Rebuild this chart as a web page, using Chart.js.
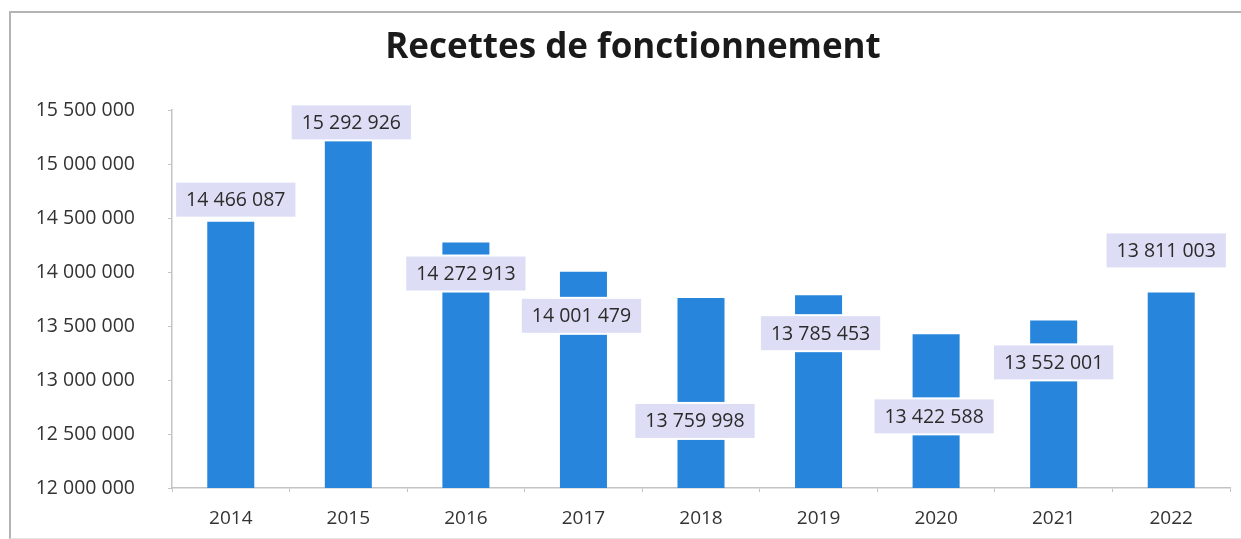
<!DOCTYPE html>
<html>
<head>
<meta charset="utf-8">
<script src="https://cdn.jsdelivr.net/npm/chart.js@4"></script>
<style>
  html, body { margin: 0; padding: 0; background: #fff; }
  #frame { position: absolute; left: 9px; top: 11px; width: 1240px; height: 525px;
           border-top: 2px solid #b4b4b4; border-left: 2px solid #b4b4b4; border-bottom: 1px solid #e4e4e4; }
  #myChart { position: absolute; left: 0; top: 0; }
</style>
</head>
<body>
<div id="frame"></div>
<canvas id="myChart" width="1241" height="539"></canvas>
<script>
// data
const years = ['2014', '2015', '2016', '2017', '2018', '2019', '2020', '2021', '2022'];
const recettes = [14466087, 15292926, 14272913, 14001479, 13759998, 13785453, 13422588, 13552001, 13811003];
const yTicks = [12000000, 12500000, 13000000, 13500000, 14000000, 14500000, 15000000, 15500000];

function fmt(v) {
  return String(v).replace(/\B(?=(\d{3})+(?!\d))/g, ' ');
}

// label boxes, shifted like in the source picture (px from the bar top)
const labelBoxes = {
  id: 'labelBoxes',
  afterDatasetsDraw(chart, args, opts) {
    const c = chart.ctx;
    const meta = chart.getDatasetMeta(0);
    c.save();
    c.font = opts.font;
    c.textAlign = 'center';
    c.textBaseline = 'middle';
    meta.data.forEach(function(bar, i) {
      const txt = fmt(recettes[i]);
      const w = c.measureText(txt).width + 20;
      const h = 34;
      const x = bar.x + opts.dx[i];
      const y = bar.y + opts.dy[i];
      c.fillStyle = '#ffffff';
      c.fillRect(x - w / 2 - 2, y - h / 2 - 2, w + 4, h + 4);
      c.fillStyle = '#dddef5';
      c.fillRect(x - w / 2, y - h / 2, w, h);
      c.fillStyle = '#2b2b2b';
      c.fillText(txt, x, y + 1);
    });
    c.restore();
  }
};

const ctx = document.getElementById('myChart');

new Chart(ctx, {
  type: 'bar',
  data: {
    labels: years,
    datasets: [{
      label: 'Recettes de fonctionnement',
      data: recettes,
      backgroundColor: '#2786dc',
      borderWidth: 0,
      barPercentage: 0.4,
      categoryPercentage: 1
    }]
  },
  options: {
    responsive: false,
    animation: false,
    layout: { padding: { top: 110, right: 11, bottom: 0, left: 0 } },
    plugins: {
      legend: { display: false },
      tooltip: { enabled: false },
      title: { display: false },
      labelBoxes: {
        font: '19.5px "Open Sans", sans-serif',
        dx: [5, 3, 0, -2, -6, 2, -2, 0, -5],
        dy: [-22, -10, 31, 44, 123, 38, 82, 42, -42]
      }
    },
    scales: {
      x: {
        grid: { drawOnChartArea: false, tickLength: 4, color: '#c4c4c4' },
        border: { color: '#c4c4c4', width: 1.5 },
        ticks: { color: '#333', padding: 15, font: { family: '"Open Sans", sans-serif', size: 19 } },
        afterFit(scale) { scale.height = 51; }
      },
      y: {
        min: 12000000,
        max: 15500000,
        afterBuildTicks(scale) { scale.ticks = yTicks.map(function(v) { return { value: v }; }); },
        grid: { drawOnChartArea: false, tickLength: 4, color: '#c4c4c4' },
        border: { color: '#c4c4c4', width: 1.5 },
        ticks: {
          color: '#333',
          padding: 33,
          font: { family: '"Open Sans", sans-serif', size: 19.5 },
          callback: function(v) { return fmt(v); }
        },
        afterFit(scale) { scale.width = 172; }
      }
    }
  },
  plugins: [labelBoxes, {
    id: 'titleText',
    afterDraw(chart) {
      const c = chart.ctx;
      c.save();
      c.font = 'bold 35px "Open Sans", sans-serif';
      c.fillStyle = '#1a1a1a';
      c.textAlign = 'center';
      c.textBaseline = 'middle';
      c.fillText('Recettes de fonctionnement', 633, 48);
      c.restore();
    }
  }]
});
</script>
</body>
</html>
